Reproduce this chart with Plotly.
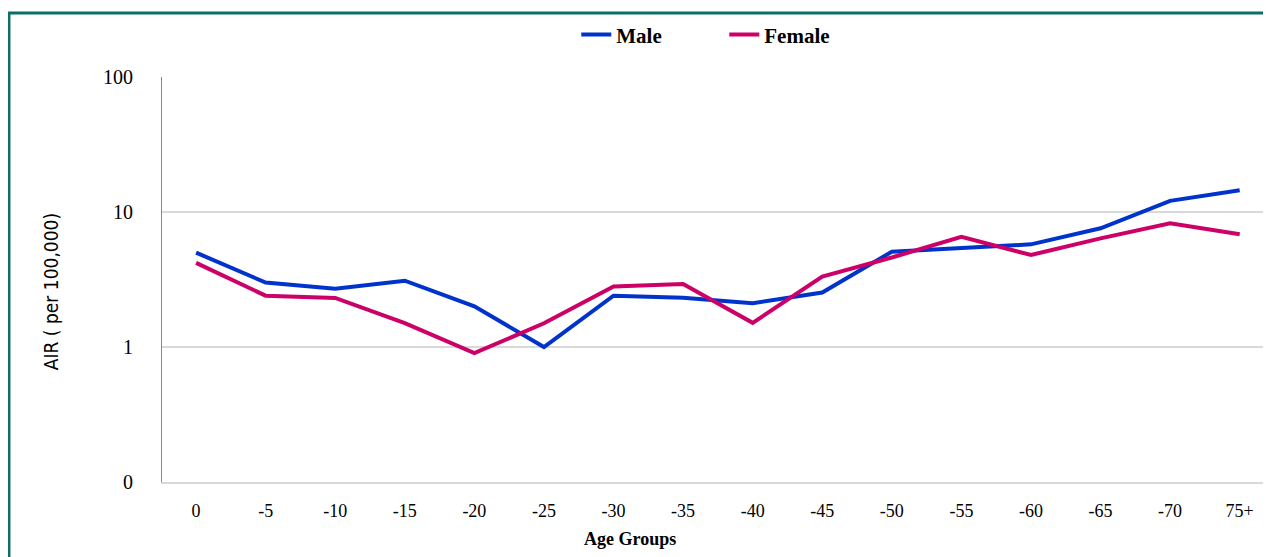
import plotly.graph_objects as go

age_groups = ["0", "-5", "-10", "-15", "-20", "-25", "-30", "-35", "-40",
              "-45", "-50", "-55", "-60", "-65", "-70", "75+"]
male = [5.0, 3.0, 2.7, 3.1, 2.0, 1.0, 2.4, 2.32, 2.11, 2.53, 5.08, 5.38,
        5.76, 7.57, 12.1, 14.5]
female = [4.2, 2.4, 2.31, 1.5, 0.9, 1.5, 2.81, 2.93, 1.51, 3.32, 4.6, 6.56,
          4.8, 6.38, 8.25, 6.84]
y_tickvals = [0.1, 1, 10, 100]
y_ticktext = ["0", "1", "10", "100"]

serif = "Liberation Serif, Times New Roman, serif"
narrow = "DejaVu Sans Condensed, Liberation Sans Narrow, Arial Narrow, sans-serif"

fig = go.Figure()
fig.add_trace(go.Scatter(x=age_groups, y=male, mode="lines", name="Male",
                         line=dict(color="#0033CC", width=4)))
fig.add_trace(go.Scatter(x=age_groups, y=female, mode="lines", name="Female",
                         line=dict(color="#CC0066", width=4)))

fig.update_layout(
    width=1263, height=549,
    margin=dict(l=154, r=0, t=69, b=75),
    paper_bgcolor="white", plot_bgcolor="white",
    font=dict(family=serif, color="black"),
    showlegend=True,
    legend=dict(orientation="h", x=0.507, xanchor="center", y=1.104,
                yanchor="middle", bgcolor="rgba(0,0,0,0)",
                font=dict(family=serif, size=21, color="black", weight="bold"),
                entrywidth=103, entrywidthmode="pixels", traceorder="normal"),
    xaxis=dict(type="category", range=[-0.49, 15.45], showgrid=False,
               showline=True, linecolor="#d9d9d9", linewidth=1.5,
               zeroline=False, ticks="",
               tickfont=dict(family=serif, size=18), ticklabelstandoff=12),
    yaxis=dict(type="log", range=[-1, 2], tickvals=y_tickvals,
               ticktext=y_ticktext, showgrid=True, gridcolor="#d9d9d9",
               gridwidth=1.5, showline=True, linecolor="#888888",
               linewidth=1, ticks="", zeroline=False,
               tickfont=dict(family=serif, size=20), ticklabelstandoff=24),
    annotations=[
        dict(text="AIR ( per 100,000)", textangle=-90, xref="paper",
             yref="paper", x=-0.100, y=0.469, showarrow=False,
             xanchor="center", yanchor="middle",
             font=dict(family=narrow, size=19, color="black")),
        dict(text="<b>Age Groups</b>", xref="paper", yref="paper",
             x=0.422, y=-0.141, showarrow=False, xanchor="center",
             yanchor="middle", font=dict(family=serif, size=18, color="black")),
    ],
    shapes=[
        dict(type="rect", xref="paper", yref="paper", x0=-0.138, x1=1.02,
             y0=-0.5, y1=1.158, line=dict(color="#0b6e69", width=3),
             fillcolor="rgba(0,0,0,0)", layer="above"),
    ],
)

fig.write_html("out.html")
